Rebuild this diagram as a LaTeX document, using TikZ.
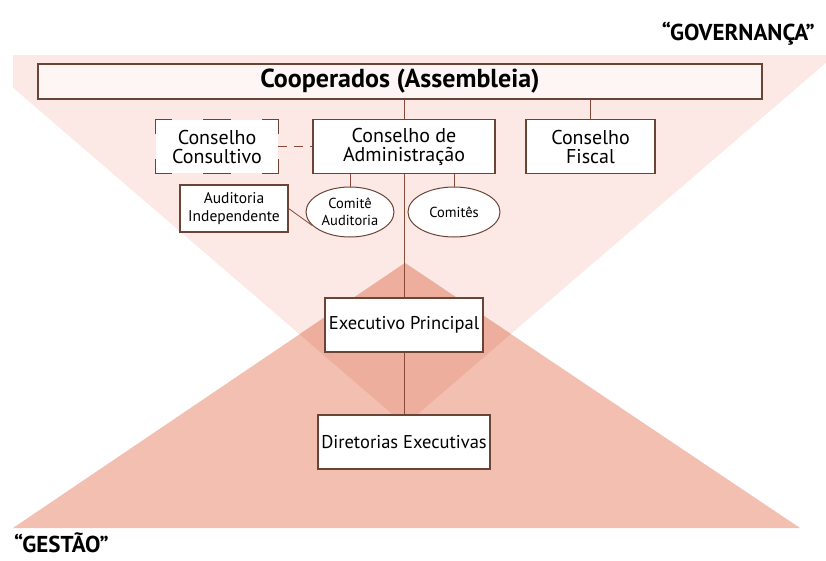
\documentclass[tikz,border=0pt]{standalone}
\usepackage{fontspec}
\setmainfont{PT Sans}
\usetikzlibrary{shapes.geometric,positioning}

\definecolor{govfill}{HTML}{FCE8E4}
\definecolor{gesfill}{HTML}{F3BFB1}
\definecolor{bothfill}{HTML}{EDAE9E}
\definecolor{boxline}{HTML}{6A4537}
\definecolor{linkline}{HTML}{8A4A3A}

\begin{document}
\begin{tikzpicture}[x=1pt,y=-1pt,
    box/.style={draw=boxline,line width=1.2pt,fill=white,inner sep=0pt,align=center},
    comite/.style={ellipse,draw=boxline,line width=1pt,fill=white,inner sep=0pt,align=center},
    link/.style={draw=linkline,line width=0.8pt},
    big/.style={font=\fontsize{20}{19}\selectfont},
    small/.style={font=\fontsize{15.5}{18}\selectfont},
    label/.style={font=\bfseries\fontsize{23}{23}\selectfont,inner sep=0pt}]
  \useasboundingbox (0,0) rectangle (826,560);

  % governance (upside down) and management triangles, darker where they meet
  \begin{scope}
    \clip (13,0) rectangle (826,560);
    \fill[govfill] (-25,55) -- (835,55) -- (405,425) -- cycle;
  \end{scope}
  \fill[gesfill] (405,263) -- (800,528) -- (13,528) -- cycle;
  \begin{scope}
    \clip (-25,55) -- (835,55) -- (405,425) -- cycle;
    \fill[bothfill] (405,263) -- (800,528) -- (13,528) -- cycle;
  \end{scope}

  \node[label,anchor=east] (gov) at (815,34) {“GOVERNANÇA”};
  \node[label,anchor=west] (ges) at (14,543) {“GESTÃO”};

  \node[box,fill=white!60!govfill,minimum width=724pt,minimum height=35pt,
    font=\bfseries\fontsize{26}{26}\selectfont] (coop) at (400,81.5) {Cooperados (Assembleia)};

  \node[big,align=center,fill=white,minimum width=122pt,minimum height=53pt] (cons) at (217,146.5) {Conselho\\Consultivo};
  \node[box,big,minimum width=182pt,minimum height=54pt] (adm) at (404,146.5) {Conselho de\\Administração};
  \node[box,big,minimum width=129pt,minimum height=54pt] (fis) at (590.5,146.5) {Conselho\\Fiscal};

  \node[box,small,minimum width=108pt,minimum height=47pt] (aud) at (234,208.5) {Auditoria\\Independente};
  \node[comite,font=\fontsize{14.5}{17}\selectfont,minimum width=88pt,minimum height=50pt] (ca) at (350,212) {Comitê\\Auditoria};
  \node[comite,font=\fontsize{14.5}{17}\selectfont,minimum width=92pt,minimum height=50pt] (cms) at (454,212) {Comitês};

  \node[box,font=\fontsize{18.5}{20}\selectfont,minimum width=158pt,minimum height=54pt] (exe) at (404,325) {Executivo Principal};
  \node[box,font=\fontsize{18.5}{20}\selectfont,minimum width=172pt,minimum height=54pt] (dir) at (404,442) {Diretorias Executivas};

  % broken frame round the advisory board
  \draw[boxline,line width=1.3pt]
    ([yshift=-14pt]cons.north west) |- ++(16,-14)
    ([yshift=-14pt]cons.north east) |- ++(-16,-14)
    ([yshift=14pt]cons.south west) |- ++(16,14)
    ([yshift=14pt]cons.south east) |- ++(-16,14)
    ([xshift=-14pt]cons.north) -- ([xshift=14pt]cons.north)
    ([xshift=-14pt]cons.south) -- ([xshift=14pt]cons.south);

  \draw[link] (adm.north) -- (adm.north |- coop.south);
  \draw[link] (fis.north) -- (fis.north |- coop.south);
  \draw[link,dash pattern=on 9pt off 7pt] (cons.east) -- (adm.west);
  \draw[link] (ca.north) -- (ca.north |- adm.south);
  \draw[link] (cms.north) -- (cms.north |- adm.south);
  \draw[link] (aud.east) -- (ca.200);
  \draw[link] (adm.south) -- (exe.north);
  \draw[link] (exe.south) -- (dir.north);
\end{tikzpicture}
\end{document}
